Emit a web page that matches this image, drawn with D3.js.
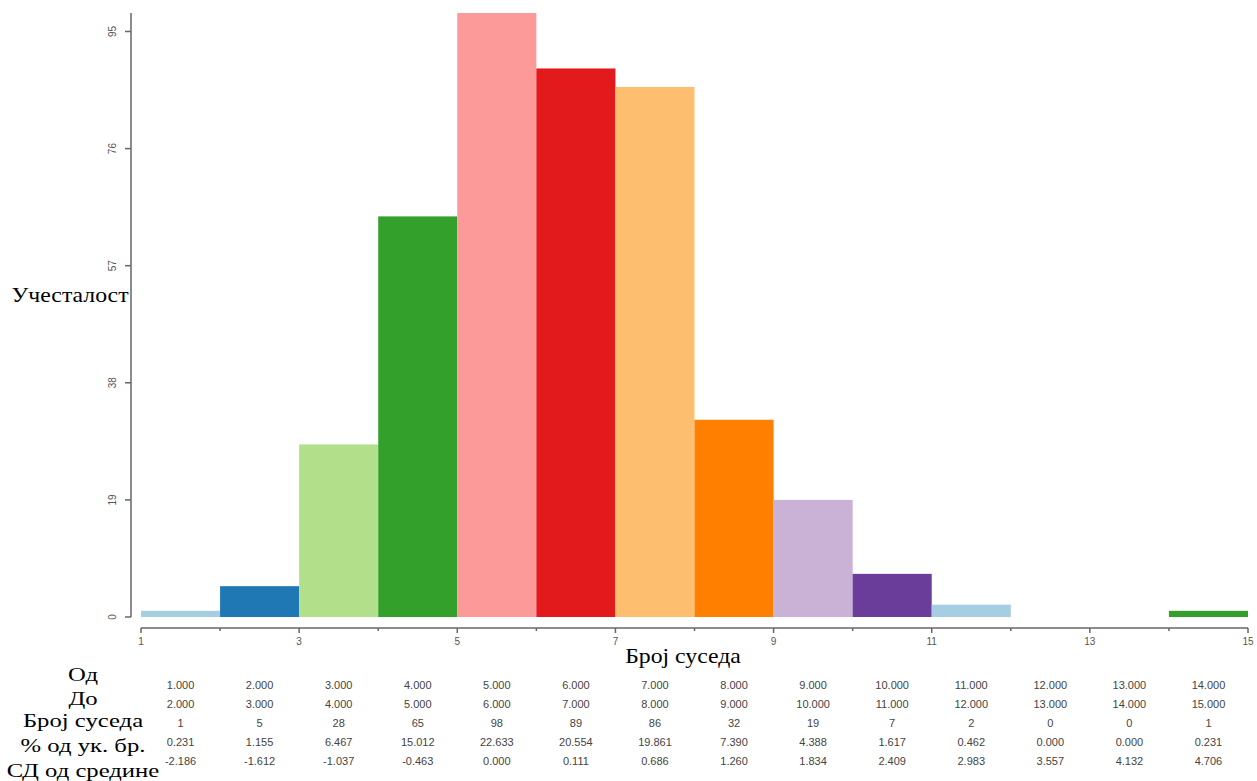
<!DOCTYPE html>
<html>
<head>
<meta charset="utf-8">
<script src="https://cdn.jsdelivr.net/npm/d3@7"></script>
<style>
  html, body { margin: 0; padding: 0; background: #fff; }
  svg { display: block; }
</style>
</head>
<body>
<svg id="chart" width="1257" height="781"></svg>
<script>
// Histogram of neighbour counts with a summary table underneath
const binFrom  = [1, 2, 3, 4, 5, 6, 7, 8, 9, 10, 11, 12, 13, 14];
const binTo    = [2, 3, 4, 5, 6, 7, 8, 9, 10, 11, 12, 13, 14, 15];
const counts   = [1, 5, 28, 65, 98, 89, 86, 32, 19, 7, 2, 0, 0, 1];
const percents = ["0.231", "1.155", "6.467", "15.012", "22.633", "20.554", "19.861", "7.390", "4.388", "1.617", "0.462", "0.000", "0.000", "0.231"];
const sdFromMean = ["-2.186", "-1.612", "-1.037", "-0.463", "0.000", "0.111", "0.686", "1.260", "1.834", "2.409", "2.983", "3.557", "4.132", "4.706"];
const yTicks = [0, 19, 38, 57, 76, 95];
const xMajorTicks = [1, 3, 5, 7, 9, 11, 13, 15];
const xMinorTicks = [2, 4, 6, 8, 10, 12, 14];
const rowLabels = ["Од", "До", "Број суседа", "% од ук. бр.", "СД од средине"];
const palette = ["#a6cee3", "#1f78b4", "#b2df8a", "#33a02c", "#fb9a99", "#e31a1c", "#fdbf6f", "#ff7f00", "#cab2d6", "#6a3d9a"];

const svg = d3.select("#chart");

const x = d3.scaleLinear().domain([1, 15]).range([141, 1248]);
const y = d3.scaleLinear().domain([0, 98]).range([617, 13]);

const axisColor = "#666";
const tickTextColor = "#555";
const serif = "'Liberation Serif', 'Times New Roman', serif";
const sans = "Arial, 'Liberation Sans', sans-serif";

// Bars
svg.append("g")
  .selectAll("rect")
  .data(counts)
  .join("rect")
  .attr("x", (d, i) => x(binFrom[i]))
  .attr("width", (d, i) => x(binTo[i]) - x(binFrom[i]))
  .attr("y", d => y(d))
  .attr("height", d => y(0) - y(d))
  .attr("fill", (d, i) => palette[i % palette.length]);

// Y axis
const yAxis = svg.append("g").attr("transform", "translate(131,0)");
yAxis.append("line")
  .attr("x1", 0).attr("x2", 0)
  .attr("y1", y(98)).attr("y2", y(0))
  .attr("stroke", axisColor).attr("stroke-width", 1.5);
yAxis.selectAll("line.tick")
  .data(yTicks)
  .join("line")
  .attr("class", "tick")
  .attr("x1", -6).attr("x2", 0)
  .attr("y1", d => y(d)).attr("y2", d => y(d))
  .attr("stroke", axisColor).attr("stroke-width", 1.5);
yAxis.selectAll("text")
  .data(yTicks)
  .join("text")
  .attr("transform", d => `translate(-19,${y(d)}) rotate(-90)`)
  .attr("text-anchor", "middle")
  .attr("dy", "0.35em")
  .attr("font-family", sans)
  .attr("font-size", 10)
  .attr("fill", tickTextColor)
  .text(d => d);

// X axis
const xAxisY = 628;
const xAxis = svg.append("g").attr("transform", `translate(0,${xAxisY})`);
xAxis.append("line")
  .attr("x1", x(1)).attr("x2", x(15))
  .attr("y1", 0).attr("y2", 0)
  .attr("stroke", axisColor).attr("stroke-width", 1.5);
xAxis.selectAll("line.major")
  .data(xMajorTicks)
  .join("line")
  .attr("class", "major")
  .attr("x1", d => x(d)).attr("x2", d => x(d))
  .attr("y1", 0).attr("y2", 5)
  .attr("stroke", axisColor).attr("stroke-width", 1.5);
xAxis.selectAll("line.minor")
  .data(xMinorTicks)
  .join("line")
  .attr("class", "minor")
  .attr("x1", d => x(d)).attr("x2", d => x(d))
  .attr("y1", 0).attr("y2", 3)
  .attr("stroke", axisColor).attr("stroke-width", 1.5);
xAxis.selectAll("text")
  .data(xMajorTicks)
  .join("text")
  .attr("x", d => x(d))
  .attr("y", 17)
  .attr("text-anchor", "middle")
  .attr("font-family", sans)
  .attr("font-size", 10)
  .attr("fill", tickTextColor)
  .text(d => d);

// Wide serif caption centred at (cx, baseline)
function caption(parent, cx, baseline, size, stretch, str) {
  parent.append("text")
    .attr("transform", `translate(${cx},${baseline}) scale(${stretch},1)`)
    .attr("text-anchor", "middle")
    .attr("font-family", serif)
    .attr("font-size", size)
    .attr("fill", "#000")
    .text(str);
}

// Axis titles
caption(svg, 70, 302, 22, 1.08, "Учесталост");
caption(svg, 683, 663, 22, 1.08, "Број суседа");

// Summary table: row captions
const labelY = [681, 705, 727, 752, 777];
const labelGroup = svg.append("g");
rowLabels.forEach((d, i) => caption(labelGroup, 83, labelY[i], 19, 1.3, d));

// Summary table: values, one column per bin
const rows = [
  binFrom.map(v => v.toFixed(3)),
  binTo.map(v => v.toFixed(3)),
  counts.map(v => String(v)),
  percents,
  sdFromMean
];
const valueY = [685, 704, 723, 742, 761];
const table = svg.append("g");
rows.forEach((row, r) => {
  table.append("g")
    .selectAll("text")
    .data(row)
    .join("text")
    .attr("x", (d, i) => (x(binFrom[i]) + x(binTo[i])) / 2)
    .attr("y", valueY[r])
    .attr("dy", "0.35em")
    .attr("text-anchor", "middle")
    .attr("font-family", sans)
    .attr("font-size", 11)
    .attr("fill", "#444")
    .text(d => d);
});
</script>
</body>
</html>
